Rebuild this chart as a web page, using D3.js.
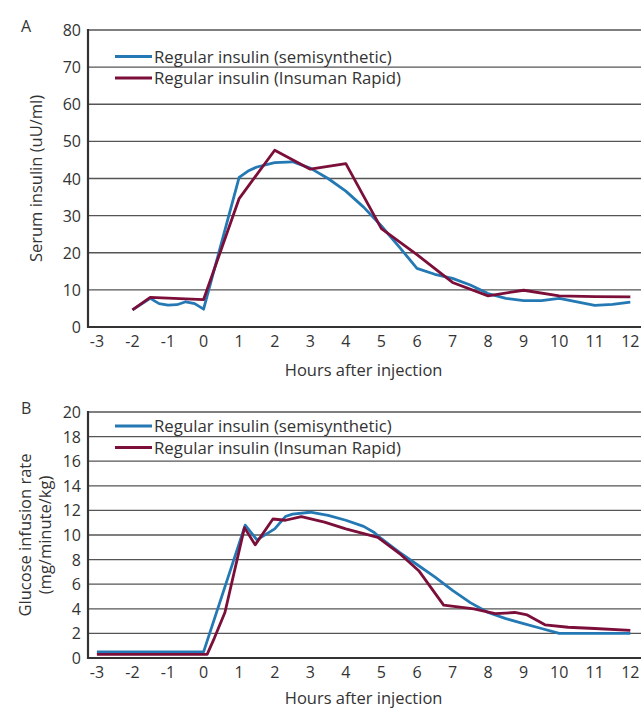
<!DOCTYPE html>
<html>
<head>
<meta charset="utf-8">
<script src="https://cdn.jsdelivr.net/npm/d3@7"></script>
<style>
  body { margin: 0; background: #fff; }
  svg { display: block; font-family: "Open Sans", "Noto Sans", sans-serif; }
  .tick-label { font-size: 16px; fill: #333; }
  .legend-label { font-size: 16.8px; fill: #333; }
  .axis-title { font-size: 16.5px; fill: #333; }
</style>
</head>
<body>
<svg id="chart" width="641" height="709"></svg>
<script>
// series names
const seriesNames = ["Regular insulin (semisynthetic)", "Regular insulin (Insuman Rapid)"]
const xTicks = [-3, -2, -1, 0, 1, 2, 3, 4, 5, 6, 7, 8, 9, 10, 11, 12]

// panel A: serum insulin (uU/ml)
const hoursSemiA = [-2, -1.5, -1.25, -1, -0.75, -0.5, -0.25, 0, 1, 1.25, 1.5, 2, 2.5, 3, 3.5, 4, 4.5, 5, 5.5, 6, 6.5, 7, 7.5, 8, 8.5, 9, 9.5, 10, 10.5, 11, 11.5, 12]
const semiA = [4.6, 7.7, 6.3, 5.9, 6.0, 6.8, 6.3, 4.8, 40.3, 42.0, 43.1, 44.3, 44.5, 42.8, 40.0, 36.6, 32.3, 27.2, 21.6, 15.8, 14.2, 13.1, 11.3, 9.0, 7.7, 7.1, 7.1, 7.7, 6.8, 5.8, 6.1, 6.7]
const hoursRapidA = [-2, -1.5, 0, 1, 2, 3, 4, 5, 6, 7, 8, 9, 10, 11, 12]
const rapidA = [4.6, 8.0, 7.4, 34.6, 47.6, 42.5, 44.0, 26.5, 19.5, 12.0, 8.4, 9.9, 8.4, 8.2, 8.1]
const yTicksA = [0, 10, 20, 30, 40, 50, 60, 70, 80]

// panel B: glucose infusion rate (mg/minute/kg)
const hoursSemiB = [-3, 0, 1.17, 1.5, 2, 2.3, 2.5, 3, 3.5, 4, 4.5, 4.8, 5, 5.5, 6, 6.5, 7, 7.5, 8, 8.5, 9, 9.5, 10, 11, 12]
const semiB = [0.5, 0.5, 10.8, 9.6, 10.5, 11.5, 11.7, 11.85, 11.6, 11.2, 10.7, 10.2, 9.7, 8.6, 7.6, 6.6, 5.5, 4.5, 3.7, 3.2, 2.8, 2.4, 2.0, 2.0, 2.0]
const hoursRapidB = [-3, 0.1, 0.3, 0.6, 1.15, 1.45, 1.95, 2.3, 2.75, 3.4, 4, 4.9, 5.55, 6.05, 6.75, 7.15, 7.6, 8.2, 8.75, 9.1, 9.6, 10.25, 11, 12]
const rapidB = [0.3, 0.3, 1.6, 3.7, 10.6, 9.2, 11.3, 11.2, 11.5, 11.05, 10.5, 9.8, 8.4, 7.1, 4.3, 4.15, 4.0, 3.6, 3.7, 3.5, 2.7, 2.5, 2.4, 2.25]
const yTicksB = [0, 2, 4, 6, 8, 10, 12, 14, 16, 18, 20]

const colors = ["#2479b4", "#7c0f3a"]

const svg = d3.select("#chart")

const xScale = d3.scaleLinear().domain([-3.25, 12.3]).range([88, 641])

function drawPanel(opt) {
    const g = svg.append("g")
    const y = d3.scaleLinear().domain([0, opt.yMax]).range([opt.bottom, opt.top])

    // panel letter
    g.append("text").attr("x", 21).attr("y", opt.top + 2)
        .attr("class", "tick-label").text(opt.letter)

    // gridlines
    g.selectAll(".grid").data(opt.yTicks.filter(d => d > 0)).join("line")
        .attr("x1", 88).attr("x2", 641)
        .attr("y1", d => y(d)).attr("y2", d => y(d))
        .attr("stroke", "#555").attr("stroke-width", 1.3)

    // y tick labels
    g.selectAll(".ylab").data(opt.yTicks).join("text")
        .attr("class", "tick-label")
        .attr("x", 81).attr("y", d => y(d) + 6)
        .attr("text-anchor", "end").text(d => d)

    // x tick labels
    g.selectAll(".xlab").data(xTicks).join("text")
        .attr("class", "tick-label")
        .attr("x", d => xScale(d)).attr("y", opt.bottom + 20)
        .attr("text-anchor", "middle").text(d => d)

    // axes lines
    g.append("line").attr("x1", 88).attr("x2", 641)
        .attr("y1", opt.bottom).attr("y2", opt.bottom)
        .attr("stroke", "#333").attr("stroke-width", 2.2)
    g.append("line").attr("x1", 88).attr("x2", 88)
        .attr("y1", opt.top - 1).attr("y2", opt.bottom + 1)
        .attr("stroke", "#333").attr("stroke-width", 2.2)

    // series
    const line = d3.line().x(d => xScale(d[0])).y(d => y(d[1]))
    opt.series.forEach((s, i) => {
        g.append("path")
            .datum(d3.zip(s.hours, s.values))
            .attr("fill", "none")
            .attr("stroke", colors[i])
            .attr("stroke-width", 2.8)
            .attr("stroke-linejoin", "round")
            .attr("d", line)
    })

    // legend
    seriesNames.forEach((name, i) => {
        const ly = opt.legendY + i * 21.5
        g.append("line").attr("x1", 115).attr("x2", 152)
            .attr("y1", ly).attr("y2", ly)
            .attr("stroke", colors[i]).attr("stroke-width", 2.8)
        g.append("text").attr("class", "legend-label")
            .attr("x", 154).attr("y", ly + 6).text(name)
    })

    // axis titles
    g.append("text").attr("class", "axis-title")
        .attr("x", xScale(4.5)).attr("y", opt.bottom + opt.xTitleDy)
        .attr("text-anchor", "middle").text("Hours after injection")
    const cy = (opt.top + opt.bottom) / 2
    opt.yTitle.forEach((t, i) => {
        g.append("text").attr("class", "axis-title")
            .attr("transform", `translate(${opt.yTitleX + i * 19.5},${cy}) rotate(-90)`)
            .attr("text-anchor", "middle").text(t)
    })
}

drawPanel({
    letter: "A", top: 30, bottom: 327, yMax: 80, yTicks: yTicksA, legendY: 56.5,
    yTitle: ["Serum insulin (uU/ml)"], yTitleX: 42, xTitleDy: 49,
    series: [{ hours: hoursSemiA, values: semiA }, { hours: hoursRapidA, values: rapidA }]
})

drawPanel({
    letter: "B", top: 412, bottom: 658, yMax: 20, yTicks: yTicksB, legendY: 426,
    yTitle: ["Glucose infusion rate", "(mg/minute/kg)"], yTitleX: 31, xTitleDy: 46,
    series: [{ hours: hoursSemiB, values: semiB }, { hours: hoursRapidB, values: rapidB }]
})
</script>
</body>
</html>
